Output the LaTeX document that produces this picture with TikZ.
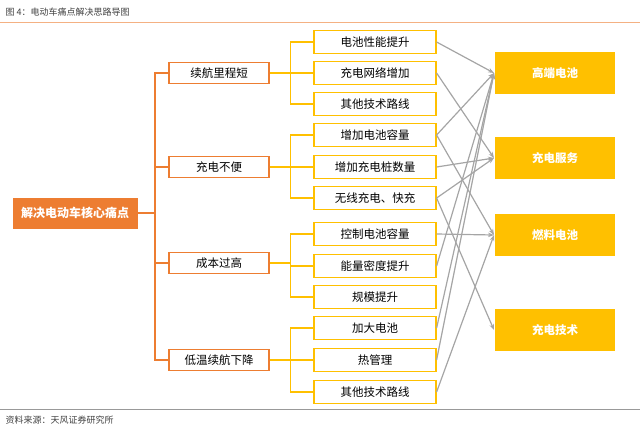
\documentclass[tikz,border=0pt]{standalone}
\usepackage{fontspec}
\newfontfamily\cjk{Noto Sans CJK SC}
\usetikzlibrary{arrows.meta}
\definecolor{org}{RGB}{237,125,49}
\definecolor{yel}{RGB}{255,192,0}
\definecolor{gr}{RGB}{165,165,165}
\begin{document}
\begin{tikzpicture}[x=1pt,y=-1pt,font=\cjk,
 l2/.style={draw=org,line width=1.2pt,fill=white,minimum width=100pt,minimum height=21pt,font=\cjk\fontsize{11.5}{13}\selectfont},
 l3/.style={draw=yel,line width=1.2pt,fill=white,minimum width=122pt,minimum height=23pt,font=\cjk\fontsize{11.5}{13}\selectfont},
 tg/.style={fill=yel,minimum width=120pt,minimum height=42pt,text=white,font=\cjk\fontsize{11.5}{13}\selectfont\bfseries},
 ob/.style={draw=org,line width=1.2pt},
 yb/.style={draw=yel,line width=1.2pt},
 ga/.style={draw=gr,line width=1.2pt,-{Stealth[length=6pt]}}]
\useasboundingbox (0,0) rectangle (640,432);
\node[anchor=west,font=\cjk\fontsize{9}{10}\selectfont,text=black!75] (title) at (2,12) {图 4：电动车痛点解决思路导图};
\draw[org!60,line width=0.6pt] (0,22) -- (640,22);
\draw[black!40,line width=0.6pt] (0,409) -- (640,409);
\node[anchor=west,font=\cjk\fontsize{9}{10}\selectfont,text=black!75] (src) at (2,420) {资料来源：天风证券研究所};
\node[fill=org,minimum width=125pt,minimum height=31pt,text=white,font=\cjk\fontsize{12}{14}\selectfont\bfseries] (m) at (75,213) {解决电动车核心痛点};
\node[l2] (a) at (219,73) {续航里程短};
\node[l2] (b) at (219,167) {充电不便};
\node[l2] (c) at (219,263) {成本过高};
\node[l2] (d) at (219,360) {低温续航下降};
\coordinate (mj) at (155,213);
\foreach \n in {a,b,c,d} \draw[ob] (m.east) -- (mj) |- (\n.west);
\node[l3] (a1) at (375,42) {电池性能提升};
\node[l3] (a2) at (375,73) {充电网络增加};
\node[l3] (a3) at (375,104) {其他技术路线};
\node[l3] (b1) at (375,135) {增加电池容量};
\node[l3] (b2) at (375,167) {增加充电桩数量};
\node[l3] (b3) at (375,198) {无线充电、快充};
\node[l3] (c1) at (375,234) {控制电池容量};
\node[l3] (c2) at (375,266) {能量密度提升};
\node[l3] (c3) at (375,297) {规模提升};
\node[l3] (d1) at (375,328) {加大电池};
\node[l3] (d2) at (375,360) {热管理};
\node[l3] (d3) at (375,392) {其他技术路线};
\foreach \p in {a,b,c,d} \coordinate (\p j) at ([xshift=21pt]\p.east);
\foreach \p/\k in {a/1,a/2,a/3,b/1,b/2,b/3,c/1,c/2,c/3,d/1,d/2,d/3}
  \draw[yb] (\p.east) -- (\p j) |- (\p\k.west);
\node[tg] (t1) at (555,73) {高端电池};
\node[tg] (t2) at (555,158) {充电服务};
\node[tg] (t3) at (555,235) {燃料电池};
\node[tg] (t4) at (555,330) {充电技术};
\coordinate (e1) at (494,73);
\coordinate (e2) at (494,158);
\coordinate (e3) at (494,235);
\coordinate (e4) at (494,330);
\draw[ga] (a1.east) -- (e1);
\draw[ga] (a2.east) -- (e2);
\draw[ga] (b1.east) -- (e1);
\draw[ga] (b1.east) -- (e3);
\draw[ga] (b2.east) -- (e2);
\draw[ga] (b3.east) -- (e2);
\draw[ga] (b3.east) -- (e4);
\draw[ga] (c1.east) -- (e3);
\draw[ga] (c2.east) -- (e1);
\draw[ga] (d1.east) -- (e1);
\draw[ga] (d2.east) -- (e1);
\draw[ga] (d3.east) -- (e3);
\end{tikzpicture}
\end{document}
